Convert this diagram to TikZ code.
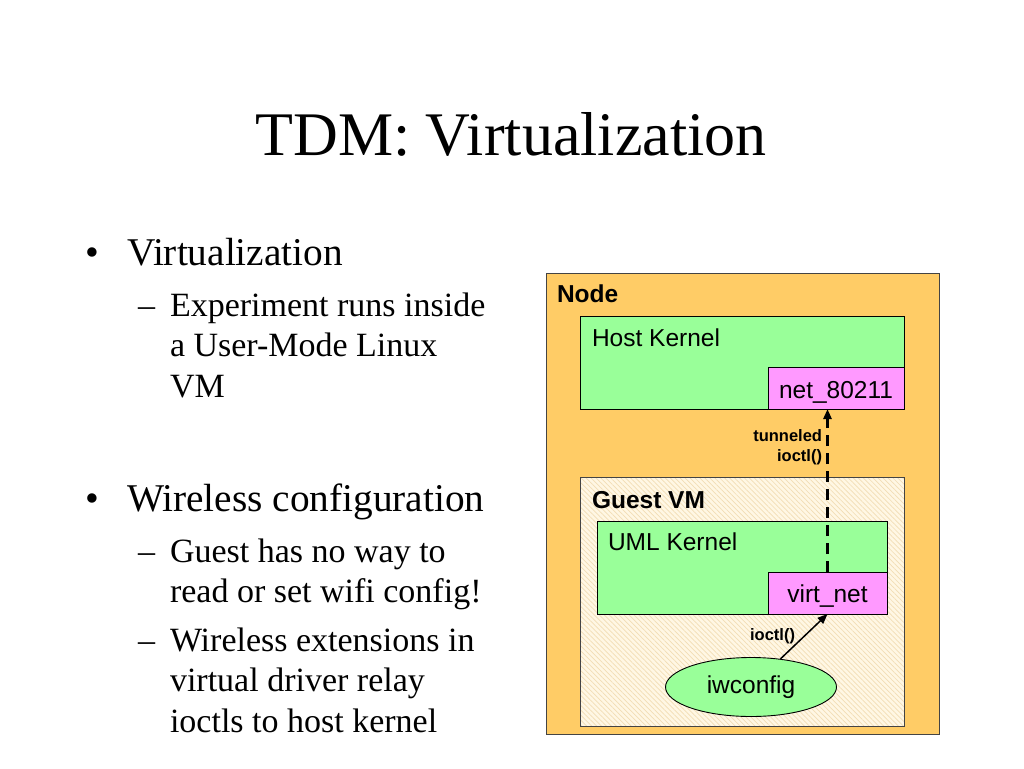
\documentclass[tikz,border=0pt]{standalone}
\usepackage{fontspec}
\setmainfont{Liberation Serif}
\newfontfamily\arialf{Liberation Sans}
\usetikzlibrary{arrows.meta,patterns.meta,shapes.geometric}
\definecolor{nodeorange}{HTML}{FFCC66}
\definecolor{kgreen}{HTML}{99FF99}
\definecolor{kpink}{HTML}{FF99FF}
\definecolor{guestbg}{HTML}{FFF7E4}
\definecolor{hatchc}{HTML}{F2DDB4}
\definecolor{edgegray}{HTML}{444444}
\tikzset{
  box/.style={draw=edgegray,line width=0.9pt,anchor=north west,inner sep=0pt,outer sep=0pt},
  txt/.style={anchor=base west,inner sep=0pt,outer sep=0pt},
  txte/.style={anchor=base east,inner sep=0pt,outer sep=0pt},
  diag/.style={font=\arialf\fontsize{24.5}{28}\selectfont},
  diagb/.style={font=\arialf\bfseries\fontsize{24.5}{28}\selectfont},
  small/.style={font=\arialf\bfseries\fontsize{16.5}{19}\selectfont},
  bul/.style={font=\fontsize{39.3}{46}\selectfont},
  sub/.style={font=\fontsize{34}{40}\selectfont},
}
\begin{document}
\begin{tikzpicture}[x=1pt,y=-1pt]
\useasboundingbox[fill=white] (0,0) rectangle (1024,768);
% title
\node[anchor=base,inner sep=0pt,font=\fontsize{62}{70}\selectfont] (title) at (511,155) {TDM: Virtualization};
% bullets
\node[txt,bul] (b1) at (85,265) {\textbullet};
\node[txt,bul] (t1) at (127,265) {Virtualization};
\node[txt,sub] (d1) at (138,316) {--};
\node[txt,sub] (s1a) at (170,316) {Experiment runs inside};
\node[txt,sub] (s1b) at (170,356) {a User-Mode Linux};
\node[txt,sub] (s1c) at (170,397) {VM};
\node[txt,bul] (b2) at (85,511) {\textbullet};
\node[txt,bul] (t2) at (127,511) {Wireless configuration};
\node[txt,sub] (d2) at (138,562) {--};
\node[txt,sub] (s2a) at (170,562) {Guest has no way to};
\node[txt,sub] (s2b) at (170,602) {read or set wifi config!};
\node[txt,sub] (d3) at (138,651) {--};
\node[txt,sub] (s3a) at (170,651) {Wireless extensions in};
\node[txt,sub] (s3b) at (170,691) {virtual driver relay};
\node[txt,sub] (s3c) at (170,732) {ioctls to host kernel};
% diagram
\node[box,fill=nodeorange,minimum width=393pt,minimum height=461pt] (node) at (546,273) {};
\node[txt,diagb] (nodel) at (557,302) {Node};
\node[box,draw=black,fill=kgreen,minimum width=324pt,minimum height=93pt] (host) at (580,316) {};
\node[txt,diag] (hostl) at (592,346) {Host Kernel};
\node[box,draw=black,fill=kpink,minimum width=136pt,minimum height=42pt] (net) at (768,367) {};
\node[anchor=base,inner sep=0pt,diag] (netl) at (836,398) {net\_80211};
\node[box,fill=guestbg,minimum width=324pt,minimum height=249pt,
  postaction={pattern={Lines[angle=-45,distance=3.5pt,line width=0.7pt]},pattern color=hatchc}] (guest) at (580,477) {};
\node[box,fill=none,minimum width=324pt,minimum height=249pt] (guestb) at (580,477) {};
\node[txt,diagb] (guestl) at (592,508) {Guest VM};
\node[box,draw=black,fill=kgreen,minimum width=290pt,minimum height=93pt] (uml) at (597,521) {};
\node[txt,diag] (umll) at (608,550) {UML Kernel};
\node[box,draw=black,fill=kpink,minimum width=119pt,minimum height=42pt] (virt) at (768,572) {};
\node[anchor=base,inner sep=0pt,diag] (virtl) at (827.5,602) {virt\_net};
\node[ellipse,draw=black,line width=0.9pt,fill=kgreen,minimum width=171pt,minimum height=59pt,inner sep=0pt,diag] (iw) at (751,687) {iwconfig};
% connectors
\draw[line width=2.6pt,dash pattern=on 11pt off 7pt,-{Triangle[length=10pt,width=8pt]}] (virt.north) -- (virt.north |- net.south);
\draw[line width=1.5pt,-{Triangle[length=10pt,width=8pt]}] (iw) -- (virt.south);
\node[txte,small] (tl1) at (822,441) {tunneled};
\node[txte,small] (tl2) at (822,461) {ioctl()};
\node[txte,small] (il) at (795,640) {ioctl()};
\end{tikzpicture}
\end{document}
